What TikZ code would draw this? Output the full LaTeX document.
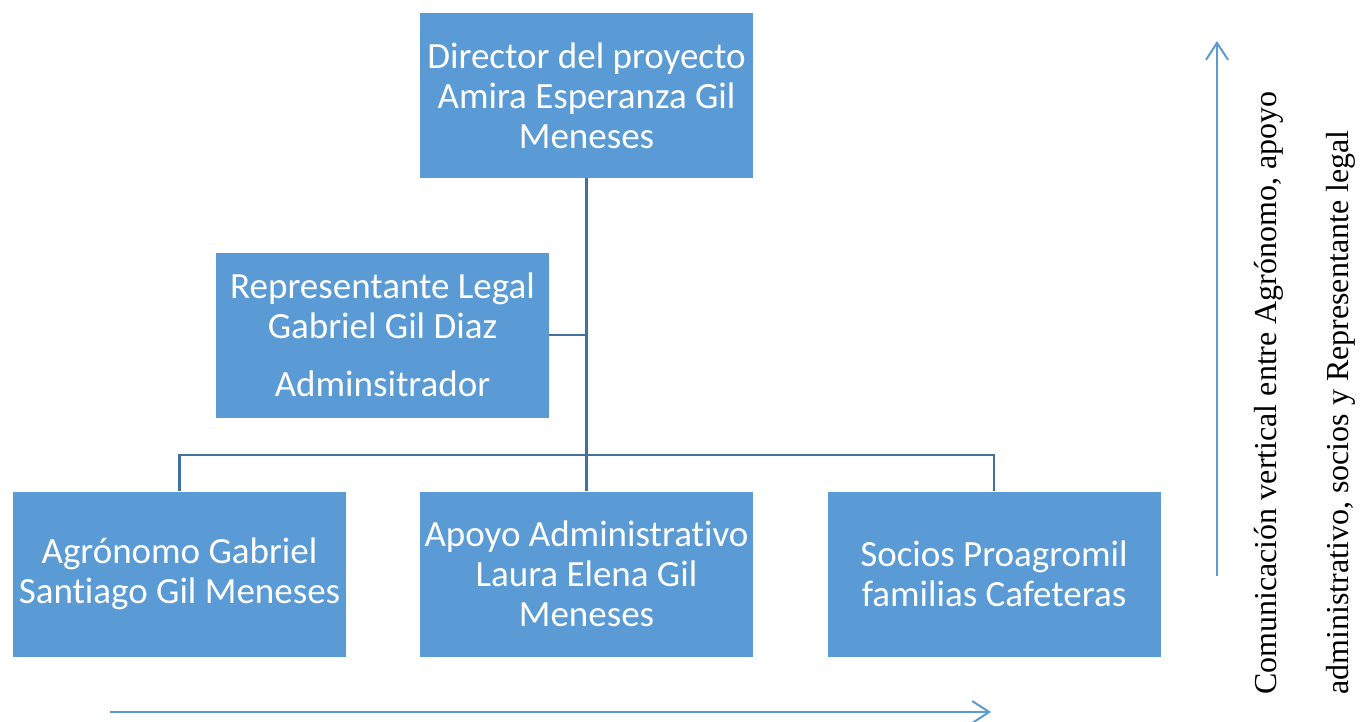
\documentclass[tikz,border=0pt]{standalone}
\usepackage{fontspec}
\setmainfont[Ligatures=NoCommon]{Carlito}
\newfontfamily\timesf{Liberation Serif}
\usetikzlibrary{arrows.meta}
\definecolor{boxblue}{HTML}{5B9BD5}
\definecolor{linkblue}{HTML}{41719C}
\begin{document}
\begin{tikzpicture}[x=1pt,y=-1pt,
  orgbox/.style={fill=boxblue,draw=none,text=white,minimum width=333pt,minimum height=165pt,inner sep=0pt,align=center,font=\fontsize{37}{40}\selectfont},
  link/.style={draw=linkblue,line width=2.2pt},
  flow/.style={draw=boxblue,line width=2pt,-{Straight Barb[length=17pt,width=22pt,line width=2pt]}},
  vtext/.style={rotate=90,anchor=west,inner sep=0pt,font=\timesf\fontsize{32}{36}\selectfont}]
\useasboundingbox (0,0) rectangle (1361,721);
\node[orgbox] (dir) at (586.5,95.5) {Director del proyecto\\Amira Esperanza Gil\\Meneses};
\node[orgbox] (rep) at (382.5,335) {Representante Legal\\Gabriel Gil Diaz\\[18pt]Adminsitrador};
\node[orgbox] (agr) at (179.5,574) {Agrónomo Gabriel\\Santiago Gil Meneses};
\node[orgbox] (apo) at (586.5,574) {Apoyo Administrativo\\Laura Elena Gil\\Meneses};
\node[orgbox] (soc) at (994,574) {Socios Proagromil\\familias Cafeteras};
\coordinate (bus) at (586.5,455);
\draw[link] (dir.south) -- (apo.north);
\draw[link] (rep.east) -- (rep.east -| dir.south);
\draw[link] (agr.north) -- (agr.north |- bus) -- (soc.north |- bus) -- (soc.north);
\coordinate (h1) at (110,712);
\coordinate (h2) at (991,712);
\coordinate (v1) at (1217,576);
\coordinate (v2) at (1217,41);
\draw[flow] (h1) -- (h2);
\draw[flow] (v1) -- (v2);
\node[vtext] (t1) at (1269,695) {Comunicación vertical entre Agrónomo, apoyo};
\node[vtext] (t2) at (1341,695) {administrativo, socios y Representante legal};
\end{tikzpicture}
\end{document}
